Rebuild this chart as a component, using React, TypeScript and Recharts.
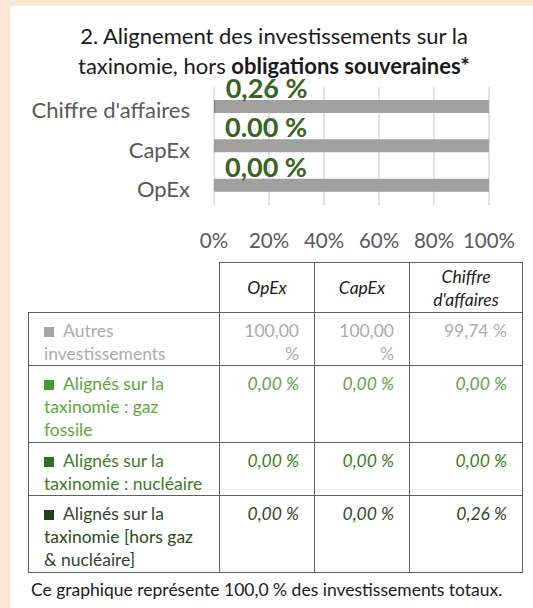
import React from "react";
import { BarChart, Bar, XAxis, YAxis, CartesianGrid, LabelList } from "recharts";

const categories = ["Chiffre d'affaires", "CapEx", "OpEx"];
const autresInvest = [99.74, 100, 100];
const gazFossile = [0, 0, 0];
const nucleaire = [0, 0, 0];
const horsGazNucleaire = [0.26, 0, 0];
const barLabels = ["0,26 %", "0.00 %", "0,00 %"];
const xTicks = [0, 20, 40, 60, 80, 100];

const titleLine1 = "2. Alignement des investissements sur la";
const titleLine2a = "taxinomie, hors ";
const titleLine2b = "obligations souveraines*";

const tableHeaders = ["OpEx", "CapEx", "Chiffre d'affaires"];
const tableRowNames = [
  "Autres investissements",
  "Alignés sur la taxinomie : gaz fossile",
  "Alignés sur la taxinomie : nucléaire",
  "Alignés sur la taxinomie [hors gaz & nucléaire]",
];
const tableOpEx = ["100,00 %", "0,00 %", "0,00 %", "0,00 %"];
const tableCapEx = ["100,00 %", "0,00 %", "0,00 %", "0,00 %"];
const tableCA = ["99,74 %", "0,00 %", "0,00 %", "0,26 %"];
const rowTextColors = ["#ababab", "#5aa83a", "#3b7d23", "#2c4a1e"];
const rowSquareColors = ["#a6a6a6", "#3f9e2c", "#2a7220", "#1d4416"];
const footnote = "Ce graphique représente 100,0 % des investissements totaux.";

const FONT = "Lato, 'Noto Sans', sans-serif";

const chartData = categories.map((c, i) => ({
  name: c,
  horsGaz: horsGazNucleaire[i],
  nucleaire: nucleaire[i],
  gaz: gazFossile[i],
  autres: autresInvest[i],
  label: barLabels[i],
}));

const renderBarLabel = (props: any) => {
  const { x, y, value } = props;
  return (
    <text
      x={Number(x) + 11}
      y={Number(y) - 2}
      fill="#3a6322"
      fontSize={27}
      fontWeight={700}
      fontFamily={FONT}
    >
      {value}
    </text>
  );
};

const rowHeights = [53, 77, 48, 77];

export default function App() {
  const cellBorder = "1.5px solid #5f5f5f";
  const tdBase: React.CSSProperties = {
    border: cellBorder,
    padding: "6px 15px 0 15px",
    verticalAlign: "top",
    lineHeight: "23px",
    fontSize: 17.5,
    fontFamily: FONT,
    boxSizing: "border-box",
  };
  return (
    <div
      style={{
        position: "absolute",
        left: 0,
        top: 0,
        width: 533,
        height: 608,
        background: "#fbe7d6",
        overflow: "hidden",
        fontFamily: FONT,
      }}
    >
      <div
        style={{
          position: "absolute",
          left: 10,
          top: 6,
          width: 523,
          height: 602,
          background: "#ffffff",
        }}
      />
      <div
        style={{
          position: "absolute",
          left: 0,
          top: 21,
          width: 548,
          textAlign: "center",
          fontSize: 22,
          lineHeight: "30px",
          color: "#1a1a1a",
          fontFamily: FONT,
        }}
      >
        <div>{titleLine1}</div>
        <div>
          {titleLine2a}
          <b>{titleLine2b}</b>
        </div>
      </div>
      <div style={{ position: "absolute", left: 0, top: 0 }}>
        <BarChart
          width={533}
          height={262}
          data={chartData}
          layout="vertical"
          margin={{ top: 87, right: 44, bottom: 0, left: 0 }}
          barSize={13}
        >
          <CartesianGrid horizontal={false} vertical={true} stroke="#d9d9d9" strokeWidth={1.5} />
          <XAxis
            type="number"
            domain={[0, 100]}
            ticks={xTicks}
            tickFormatter={(v: number) => `${v}%`}
            axisLine={false}
            tickLine={false}
            tickSize={0}
            tickMargin={28}
            height={57}
            interval={0}
            tick={{ fill: "#595959", fontSize: 20.5, fontFamily: FONT }}
          />
          <YAxis
            type="category"
            dataKey="name"
            width={214}
            axisLine={false}
            tickLine={false}
            tickSize={0}
            tickMargin={24}
            tick={{ fill: "#595959", fontSize: 22, fontFamily: FONT, dy: 4 }}
          />
          <Bar dataKey="horsGaz" stackId="a" fill="#1d4416" isAnimationActive={false} />
          <Bar dataKey="nucleaire" stackId="a" fill="#2a7220" isAnimationActive={false} />
          <Bar dataKey="gaz" stackId="a" fill="#3f9e2c" isAnimationActive={false} />
          <Bar dataKey="autres" stackId="a" fill="#a0a0a0" isAnimationActive={false}>
            <LabelList dataKey="label" content={renderBarLabel} />
          </Bar>
        </BarChart>
      </div>
      <table
        style={{
          position: "absolute",
          left: 28,
          top: 262,
          width: 494,
          borderCollapse: "collapse",
          tableLayout: "fixed",
          fontFamily: FONT,
        }}
      >
        <colgroup>
          <col style={{ width: 191 }} />
          <col style={{ width: 95 }} />
          <col style={{ width: 95 }} />
          <col style={{ width: 113 }} />
        </colgroup>
        <tbody>
          <tr style={{ height: 50 }}>
            <td style={{ ...tdBase, borderTop: "none", borderLeft: "none" }}></td>
            {tableHeaders.map((h) => (
              <td
                key={h}
                style={{
                  ...tdBase,
                  padding: "0 8px",
                  textAlign: "center",
                  verticalAlign: "middle",
                  fontStyle: "italic",
                  color: "#1a1a1a",
                }}
              >
                {h}
              </td>
            ))}
          </tr>
          {tableRowNames.map((name, i) => (
            <tr key={name} style={{ height: rowHeights[i] }}>
              <td style={{ ...tdBase, color: rowTextColors[i] }}>
                <span
                  style={{
                    display: "inline-block",
                    width: 10,
                    height: 10,
                    background: rowSquareColors[i],
                    marginRight: 9,
                    verticalAlign: "0px",
                  }}
                />
                {name}
              </td>
              {[tableOpEx[i], tableCapEx[i], tableCA[i]].map((v, j) => (
                <td
                  key={j}
                  style={{
                    ...tdBase,
                    textAlign: "right",
                    fontStyle: i === 0 ? "normal" : "italic",
                    color: rowTextColors[i],
                  }}
                >
                  {v}
                </td>
              ))}
            </tr>
          ))}
        </tbody>
      </table>
      <div
        style={{
          position: "absolute",
          left: 31,
          top: 579,
          fontSize: 17.5,
          lineHeight: "22px",
          color: "#1a1a1a",
          fontFamily: FONT,
        }}
      >
        {footnote}
      </div>
    </div>
  );
}
